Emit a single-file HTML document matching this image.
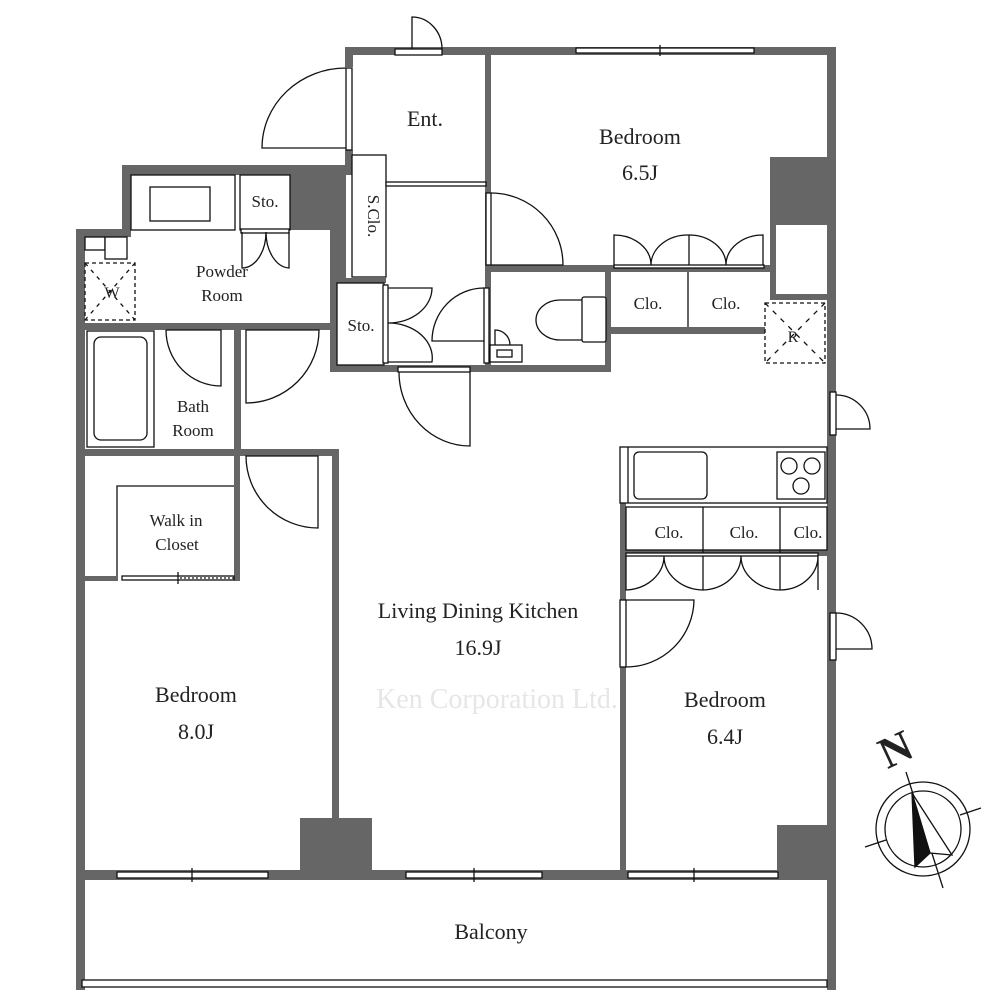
<!DOCTYPE html>
<html><head><meta charset="utf-8"><style>
html,body{margin:0;padding:0;background:#fff}
svg{display:block}
text{font-family:"Liberation Serif",serif;fill:#222}
</style></head><body>
<svg width="1000" height="1000" viewBox="0 0 1000 1000" xmlns="http://www.w3.org/2000/svg">
<g fill="#666" stroke="none">
<rect x="345" y="47" width="491" height="8"/>
<rect x="827" y="47" width="9" height="943"/>
<rect x="345" y="47" width="8" height="20"/>
<rect x="345" y="150" width="8" height="25"/>
<rect x="122" y="165" width="231" height="10"/>
<rect x="122" y="165" width="9" height="72"/>
<rect x="76" y="229" width="55" height="8"/>
<rect x="76" y="229" width="9" height="761"/>
<rect x="290" y="165" width="56" height="65"/>
<rect x="330" y="225" width="16" height="55"/>
<rect x="770" y="157" width="66" height="68"/>
<rect x="770" y="225" width="6" height="72"/>
<rect x="770" y="294" width="66" height="6"/>
<rect x="485" y="55" width="6" height="316"/>
<rect x="487" y="265" width="288" height="7"/>
<rect x="605" y="265" width="6" height="107"/>
<rect x="605" y="327" width="170" height="7"/>
<rect x="330" y="365" width="281" height="7"/>
<rect x="330" y="278" width="7" height="94"/>
<rect x="330" y="278" width="56" height="5"/>
<rect x="76" y="323" width="261" height="7"/>
<rect x="234" y="323" width="7" height="133"/>
<rect x="76" y="449" width="263" height="7"/>
<rect x="332" y="449" width="7" height="430"/>
<rect x="234" y="449" width="6" height="132"/>
<rect x="76" y="576" width="42" height="5"/>
<rect x="620" y="500" width="6" height="378"/>
<rect x="620" y="550" width="207" height="6"/>
<rect x="300" y="818" width="72" height="60"/>
<rect x="777" y="825" width="59" height="53"/>
<rect x="76" y="870" width="760" height="10"/>
</g>
<g fill="#fff" stroke="#111" stroke-width="1.3">
<rect x="576" y="48" width="178" height="5"/>
<line x1="660" y1="45" x2="660" y2="56"/>
<rect x="117" y="872" width="151" height="6"/>
<line x1="192" y1="868" x2="192" y2="882"/>
<rect x="406" y="872" width="136" height="6"/>
<line x1="474" y1="868" x2="474" y2="882"/>
<rect x="628" y="872" width="150" height="6"/>
<line x1="694" y1="868" x2="694" y2="882"/>
<rect x="82" y="980" width="745" height="7"/>
<rect x="395" y="49" width="47" height="6"/>
<path d="M412 49 V17 A30 32 0 0 1 442 49" fill="none"/>
<rect x="346" y="68" width="6" height="82"/>
<path d="M346 148 H262 A84 80 0 0 1 346 68" fill="none"/>
<rect x="352" y="155" width="34" height="122"/>
<rect x="386" y="182" width="100" height="4"/>
<rect x="486" y="193" width="5" height="72"/>
<path d="M491 265 H563 A72 72 0 0 0 491 193" fill="none"/>
<path d="M614 265 V235 A37 30 0 0 1 651 265 A37 30 0 0 1 689 235 A37 30 0 0 1 726 265 A37 30 0 0 1 763 235 V265 M689 235 V265" fill="none"/>
<rect x="614" y="265" width="150" height="3"/>
<line x1="688" y1="272" x2="688" y2="327"/>
<rect x="131" y="175" width="104" height="55"/>
<rect x="150" y="187" width="60" height="34"/>
<rect x="240" y="175" width="50" height="55"/>
<rect x="241" y="229" width="48" height="4"/>
<path d="M242 232 V268 A24 36 0 0 0 266 232 A24 36 0 0 0 289 268 V232" fill="none"/>
<rect x="85" y="237" width="20" height="13"/>
<rect x="105" y="237" width="22" height="22"/>
<rect x="85" y="263" width="50" height="57" stroke-dasharray="4,3"/>
<line x1="85" y1="263" x2="135" y2="320" stroke-dasharray="4,5"/>
<line x1="135" y1="263" x2="85" y2="320" stroke-dasharray="4,5"/>
<rect x="87" y="331" width="67" height="116"/>
<rect x="94" y="337" width="53" height="103" rx="7"/>
<path d="M166 330 H221 V386 A55 56 0 0 1 166 330" fill="none"/>
<path d="M246 330 H319 V330 A73 73 0 0 1 246 403 Z" fill="none"/>
<rect x="337" y="283" width="47" height="82" fill="#fff"/>
<rect x="383" y="285" width="5" height="78"/>
<path d="M388 288 H432 A44 35 0 0 1 388 323 A44 35 0 0 1 432 362 H388" fill="none"/>
<rect x="484" y="288" width="5" height="75"/>
<path d="M484 288 A52 53 0 0 0 432 341 H484" fill="none"/>
<path d="M591 300 H560 A24 20 0 0 0 560 340 H591 Z" fill="none"/>
<rect x="582" y="297" width="24" height="45" rx="2"/>
<rect x="490" y="345" width="32" height="17"/>
<rect x="497" y="350" width="15" height="7"/>
<path d="M495 345 V330 A15 15 0 0 1 510 345" fill="none"/>
<rect x="398" y="367" width="72" height="5"/>
<path d="M470 372 V446 A71 74 0 0 1 399 372" fill="none"/>
<rect x="765" y="303" width="60" height="60" stroke-dasharray="4,3"/>
<line x1="765" y1="303" x2="825" y2="363" stroke-dasharray="5,6"/>
<line x1="825" y1="303" x2="765" y2="363" stroke-dasharray="5,6"/>
<rect x="830" y="392" width="6" height="43"/>
<path d="M836 395 A34 34 0 0 1 870 429 H836" fill="none"/>
<rect x="830" y="613" width="6" height="47"/>
<path d="M836 613 A36 36 0 0 1 872 649 H836" fill="none"/>
<rect x="620" y="447" width="207" height="56"/>
<line x1="628" y1="447" x2="628" y2="503"/>
<rect x="634" y="452" width="73" height="47" rx="5"/>
<rect x="777" y="452" width="48" height="47"/>
<circle cx="789" cy="466" r="8"/><circle cx="812" cy="466" r="8"/><circle cx="801" cy="486" r="8"/>
<rect x="626" y="507" width="201" height="43"/>
<line x1="703" y1="507" x2="703" y2="556"/>
<line x1="780" y1="507" x2="780" y2="556"/>
<rect x="626" y="553" width="192" height="3"/>
<path d="M626 556 V590 A40 34 0 0 0 664 556 A40 34 0 0 0 703 590 A40 34 0 0 0 741 556 A40 34 0 0 0 780 590 A38 34 0 0 0 818 556 V590 M703 556 V590 M780 556 V590" fill="none"/>
<rect x="620" y="600" width="6" height="67"/>
<path d="M626 600 H694 A68 68 0 0 1 626 667" fill="none"/>
<path d="M246 456 H318 V528 A72 72 0 0 1 246 456 Z" fill="none"/>
<path d="M117 576 V486 H234" fill="none"/>
<rect x="122" y="576" width="112" height="4"/>
<line x1="178" y1="572" x2="178" y2="584"/>
<line x1="180" y1="578" x2="234" y2="578" stroke-dasharray="2,2"/>
</g>
<g stroke="#111" stroke-width="1.3" fill="none">
<circle cx="923" cy="829" r="47"/>
<circle cx="923" cy="829" r="38"/>
<line x1="906" y1="772" x2="943" y2="888"/>
<line x1="865" y1="847" x2="886" y2="840"/>
<line x1="960" y1="815" x2="981" y2="808"/>
<path d="M912 793 L952 855 L930 853 Z" fill="#fff"/>
<path d="M912 793 L930 853 L915 867 Z" fill="#111"/>
</g>
<text x="895" y="764" font-size="44" font-weight="bold" transform="rotate(-25 895 748)" text-anchor="middle">N</text>
<g text-anchor="middle">
<text x="425" y="126" font-size="22">Ent.</text>
<text x="640" y="144" font-size="22">Bedroom</text>
<text x="640" y="180" font-size="22">6.5J</text>
<text x="265" y="207" font-size="17">Sto.</text>
<text x="222" y="277" font-size="17">Powder</text>
<text x="222" y="301" font-size="17">Room</text>
<text x="112" y="298" font-size="16">W</text>
<text x="361" y="331" font-size="17">Sto.</text>
<text x="648" y="309" font-size="17">Clo.</text>
<text x="726" y="309" font-size="17">Clo.</text>
<text x="793" y="342" font-size="16">R</text>
<text x="193" y="412" font-size="17">Bath</text>
<text x="193" y="436" font-size="17">Room</text>
<text x="176" y="526" font-size="17">Walk in</text>
<text x="177" y="550" font-size="17">Closet</text>
<text x="669" y="538" font-size="17">Clo.</text>
<text x="744" y="538" font-size="17">Clo.</text>
<text x="808" y="538" font-size="17">Clo.</text>
<text x="478" y="618" font-size="22">Living Dining Kitchen</text>
<text x="478" y="655" font-size="22">16.9J</text>
<text x="497" y="708" font-size="28" style="fill:#e6e6e6">Ken Corporation Ltd.</text>
<text x="196" y="702" font-size="22">Bedroom</text>
<text x="196" y="739" font-size="22">8.0J</text>
<text x="725" y="707" font-size="22">Bedroom</text>
<text x="725" y="744" font-size="22">6.4J</text>
<text x="491" y="939" font-size="22">Balcony</text>
<text x="368" y="216" font-size="17" transform="rotate(90 368 216)">S.Clo.</text>
</g>
</svg>
</body></html>
